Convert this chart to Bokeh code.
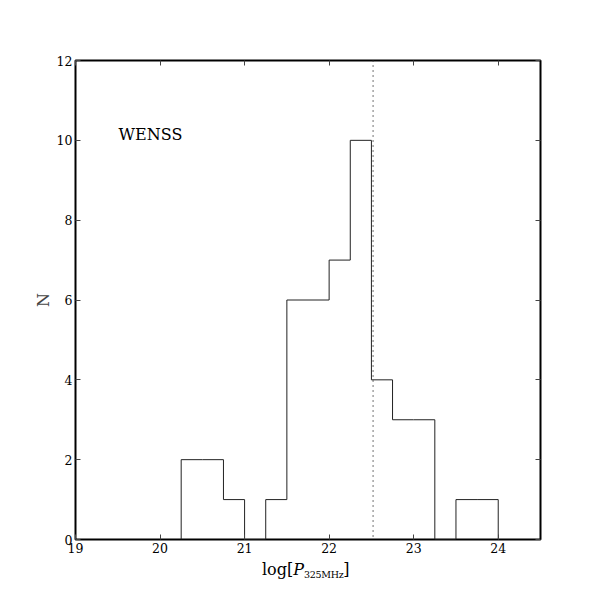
from bokeh.plotting import figure
from bokeh.models import Range1d, LinearAxis, Label, Span, FixedTicker, Div
from bokeh.layouts import column
from bokeh.embed import file_html
from bokeh.resources import INLINE

# histogram bin edges (log P) and counts
bin_left = [20.25, 20.5, 20.75, 21.0, 21.25, 21.5, 21.75, 22.0, 22.25, 22.5, 22.75, 23.0, 23.25, 23.5, 23.75]
bin_width = 0.25
counts = [2, 2, 1, 0, 1, 6, 6, 7, 10, 4, 3, 3, 0, 1, 1]
median_logp = 22.52
x_ticks = [19, 20, 21, 22, 23, 24]
y_ticks = [0, 2, 4, 6, 8, 10, 12]
label_text = "WENSS"

FONT = "DejaVu Serif"

p = figure(width=600, height=560, output_backend="svg", toolbar_location=None,
           x_range=Range1d(19, 24.5), y_range=Range1d(0, 12),
           min_border_left=75, min_border_right=60, min_border_top=60, min_border_bottom=21)
p.xgrid.visible = False
p.ygrid.visible = False
p.outline_line_color = "black"
p.outline_line_width = 2
p.background_fill_color = "white"
p.border_fill_color = "white"

def style_axis(ax, ticks, show_labels=True):
    ax.ticker = FixedTicker(ticks=ticks)
    ax.major_tick_in = 5
    ax.major_tick_out = 0
    ax.minor_tick_in = 0
    ax.minor_tick_out = 0
    ax.axis_line_color = None
    ax.major_tick_line_color = "#444444"
    ax.major_label_text_font = FONT
    ax.major_label_text_font_size = "12.5px"
    ax.major_label_text_color = "black" if show_labels else None
    ax.major_label_standoff = 3

style_axis(p.xaxis[0], x_ticks)
style_axis(p.yaxis[0], y_ticks)
p.yaxis[0].axis_label = "N"
p.yaxis[0].axis_label_text_font = FONT
p.yaxis[0].axis_label_text_font_style = "normal"
p.yaxis[0].axis_label_text_font_size = "16px"
p.yaxis[0].axis_label_standoff = 1

top = LinearAxis()
style_axis(top, x_ticks, show_labels=False)
p.add_layout(top, "above")
right = LinearAxis()
style_axis(right, y_ticks, show_labels=False)
p.add_layout(right, "right")

# step outline of the histogram
xs, ys = [bin_left[0]], [0]
for i, c in enumerate(counts):
    x0 = bin_left[i]
    x1 = x0 + bin_width
    xs += [x0, x1]
    ys += [c, c]
xs.append(bin_left[-1] + bin_width)
ys.append(0)
p.line(xs, ys, line_color="#222222", line_width=1)

p.add_layout(Span(location=median_logp, dimension="height", line_color="#444444",
                  line_dash="1 4", line_width=1.5))

p.add_layout(Label(x=19.51, y=9.9, text=label_text, text_font=FONT,
                   text_font_size="16px", text_color="black"))

# x-axis label: log[P_325MHz]
xlabel = Div(
    text=("log[<span style='font-style:italic'>P</span>"
          "<span style='font-size:9.5px; position:relative; top:3px; letter-spacing:-0.3px'>325MHz</span>]"),
    width=338, height=38, margin=(2, 0, 0, 262),
    styles={"font-family": FONT, "font-size": "16px", "line-height": "16px",
            "color": "black", "white-space": "nowrap"})

layout = column(p, xlabel, spacing=0)
open("out.html", "w").write(file_html(layout, INLINE))
